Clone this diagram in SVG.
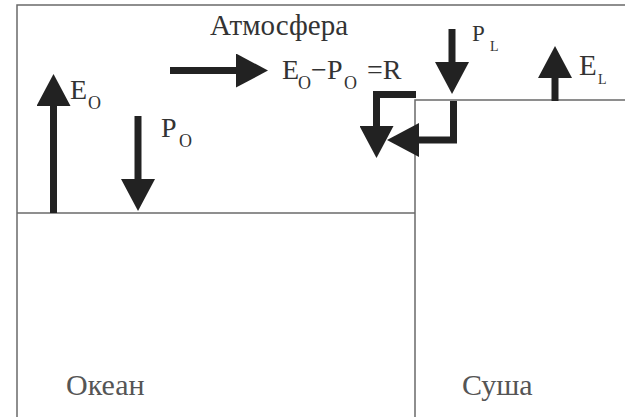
<svg xmlns="http://www.w3.org/2000/svg" width="625" height="417" viewBox="0 0 625 417">
  <style>
    .frame { fill: none; stroke: #6a6a6a; stroke-width: 1.5; }
    .arrow { fill: none; stroke: #222; stroke-width: 7; stroke-linejoin: miter; stroke-linecap: butt; }
    .t { fill: #333; font-family: 'Liberation Serif', 'Times New Roman', serif; }
    .big { font-size: 28px; }
    .sub { font-size: 18px; }
    .small { font-size: 14px; }
    .place { fill: #555; font-size: 30px; font-family: 'Liberation Serif', 'Times New Roman', serif; }
  </style>
  <defs>
    <marker id="head" markerUnits="userSpaceOnUse" viewBox="0 0 32 34" markerWidth="32" markerHeight="34" refX="1" refY="17" orient="auto">
      <path d="M0,0 L32,17 L0,34 Z" fill="#222"/>
    </marker>
  </defs>
  <rect width="625" height="417" fill="#ffffff"/>

  <g id="atmosphere">
    <path class="frame" d="M17,417 V5 H625"/>
    <text class="t" x="210" y="35" style="font-size:29px">Атмосфера</text>
  </g>

  <g id="ocean">
    <path class="frame" d="M17,213 H415"/>
    <text class="place" x="66" y="395">Океан</text>
  </g>

  <g id="land">
    <path class="frame" d="M415,417 V100 H625"/>
    <text class="place" x="462" y="395">Суша</text>
  </g>

  <g id="labels">
    <text class="t" x="70" y="99"><tspan class="big">E</tspan><tspan class="sub" x="88" y="109">O</tspan></text>
    <text class="t" x="161" y="137"><tspan class="big">P</tspan><tspan class="sub" x="179" y="147">O</tspan></text>
    <text class="t" x="282" y="79"><tspan class="big">E</tspan><tspan class="sub" x="298" y="89">O</tspan><tspan class="big" x="311" y="79">−</tspan><tspan class="big" x="327">P</tspan><tspan class="sub" x="344" y="89">O</tspan><tspan class="big" x="367" y="79">=R</tspan></text>
    <text class="t" x="472" y="41"><tspan style="font-size:23px">P</tspan><tspan class="small" x="490" y="51">L</tspan></text>
    <text class="t" x="579" y="75"><tspan style="font-size:29px">E</tspan><tspan class="small" x="598" y="84">L</tspan></text>
  </g>

  <g id="connectors">
    <path class="arrow" d="M53.5,213 V105" marker-end="url(#head)"/>
    <path class="arrow" d="M138,116 V180" marker-end="url(#head)"/>
    <path class="arrow" d="M170,70.5 H237" marker-end="url(#head)"/>
    <path class="arrow" d="M452,29 V63" marker-end="url(#head)"/>
    <path class="arrow" d="M555,101 V77" marker-end="url(#head)"/>
    <path class="arrow" d="M416,94.5 H376.5 V127" marker-end="url(#head)"/>
    <path class="arrow" d="M453.5,101 V140 H418" marker-end="url(#head)"/>
  </g>
</svg>
